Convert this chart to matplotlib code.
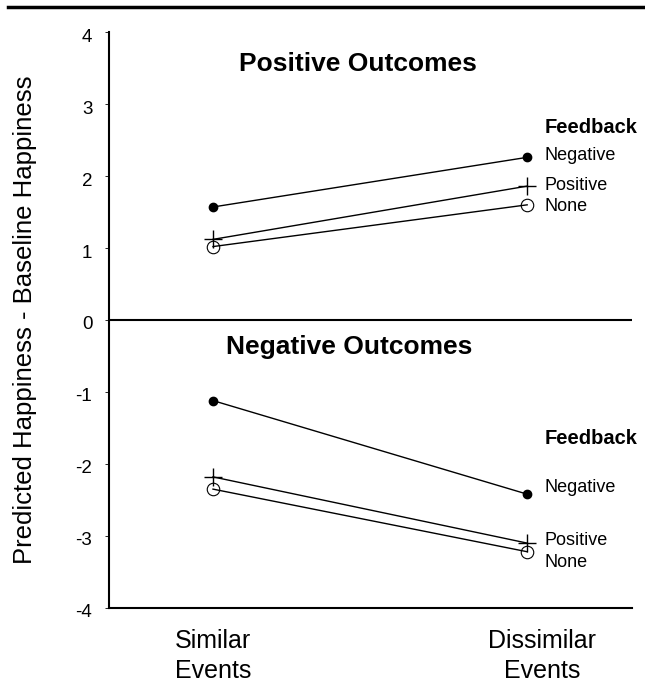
import matplotlib
matplotlib.use("Agg")
import matplotlib.pyplot as plt
import matplotlib.transforms as mtransforms
from matplotlib.lines import Line2D

plt.rcParams['font.family'] = ['Liberation Sans', 'DejaVu Sans']
plt.rcParams['axes.unicode_minus'] = False

# data
conditions = ["Similar\nEvents", "Dissimilar\nEvents"]
pos_negative = [1.57, 2.26]
pos_positive = [1.12, 1.86]
pos_none = [1.02, 1.60]
neg_negative = [-1.12, -2.42]
neg_positive = [-2.18, -3.10]
neg_none = [-2.35, -3.22]
feedback_names = ["Negative", "Positive", "None"]
pos_label_y = [2.29, 1.875, 1.57]
neg_label_y = [-2.33, -3.06, -3.375]

x = [0, 1]

fig = plt.figure(figsize=(6.45, 6.83), dpi=100)
ax = fig.add_axes([0.169, 0.110, 0.811, 0.843])

def draw(vals, kind):
    if kind == "Negative":
        ax.plot(x, vals, color="black", lw=1, marker="o", ms=6, mfc="black", mec="black")
    elif kind == "Positive":
        ax.plot(x, vals, color="black", lw=1, marker="+", ms=13, mew=1)
    else:
        ax.plot(x, vals, color="black", lw=1, marker="o", ms=9, mfc="none", mec="black", mew=0.8)

for vals, kind in zip([pos_negative, pos_positive, pos_none], feedback_names):
    draw(vals, kind)
for vals, kind in zip([neg_negative, neg_positive, neg_none], feedback_names):
    draw(vals, kind)

ax.axhline(0, color="black", lw=1.5)

ax.set_xlim(-0.331, 1.334)
ax.set_ylim(-4, 4)
ax.set_yticks(range(-4, 5))
ax.set_xticks(x)
ax.set_xticklabels(conditions, fontsize=18, linespacing=1.35)
ax.tick_params(axis="x", length=0, pad=15)
ax.tick_params(axis="y", length=3, width=0.6, labelsize=13.5, pad=9)
for t in ax.get_yticklabels():
    t.set_transform(t.get_transform() + mtransforms.ScaledTranslation(0, -0.03, fig.dpi_scale_trans))
lbls = ax.get_xticklabels()
lbls[1].set_transform(lbls[1].get_transform() + mtransforms.ScaledTranslation(0.15, 0, fig.dpi_scale_trans))

for s in ["top", "right"]:
    ax.spines[s].set_visible(False)
ax.spines["left"].set_linewidth(1.5)
ax.spines["bottom"].set_linewidth(1.5)

ax.set_ylabel("Predicted Happiness - Baseline Happiness", fontsize=18.5, labelpad=28)

ax.text(0.46, 3.55, "Positive Outcomes", fontsize=19, fontweight="bold", ha="center", va="center")
ax.text(0.435, -0.37, "Negative Outcomes", fontsize=19, fontweight="bold", ha="center", va="center")

off = mtransforms.ScaledTranslation(0.17, 0, fig.dpi_scale_trans)
ax.text(1, 2.67, "Feedback", fontsize=14.5, fontweight="bold", va="center", transform=ax.transData + off)
ax.text(1, -1.65, "Feedback", fontsize=14.5, fontweight="bold", va="center", transform=ax.transData + off)
for name, yy in zip(feedback_names, pos_label_y):
    ax.text(1, yy, name, fontsize=13, va="center", transform=ax.transData + off)
for name, yy in zip(feedback_names, neg_label_y):
    ax.text(1, yy, name, fontsize=13, va="center", transform=ax.transData + off)

fig.add_artist(Line2D([0.012, 1.0], [0.990, 0.990], color="black", lw=2.5, transform=fig.transFigure))

fig.savefig("out.png", dpi=100)
